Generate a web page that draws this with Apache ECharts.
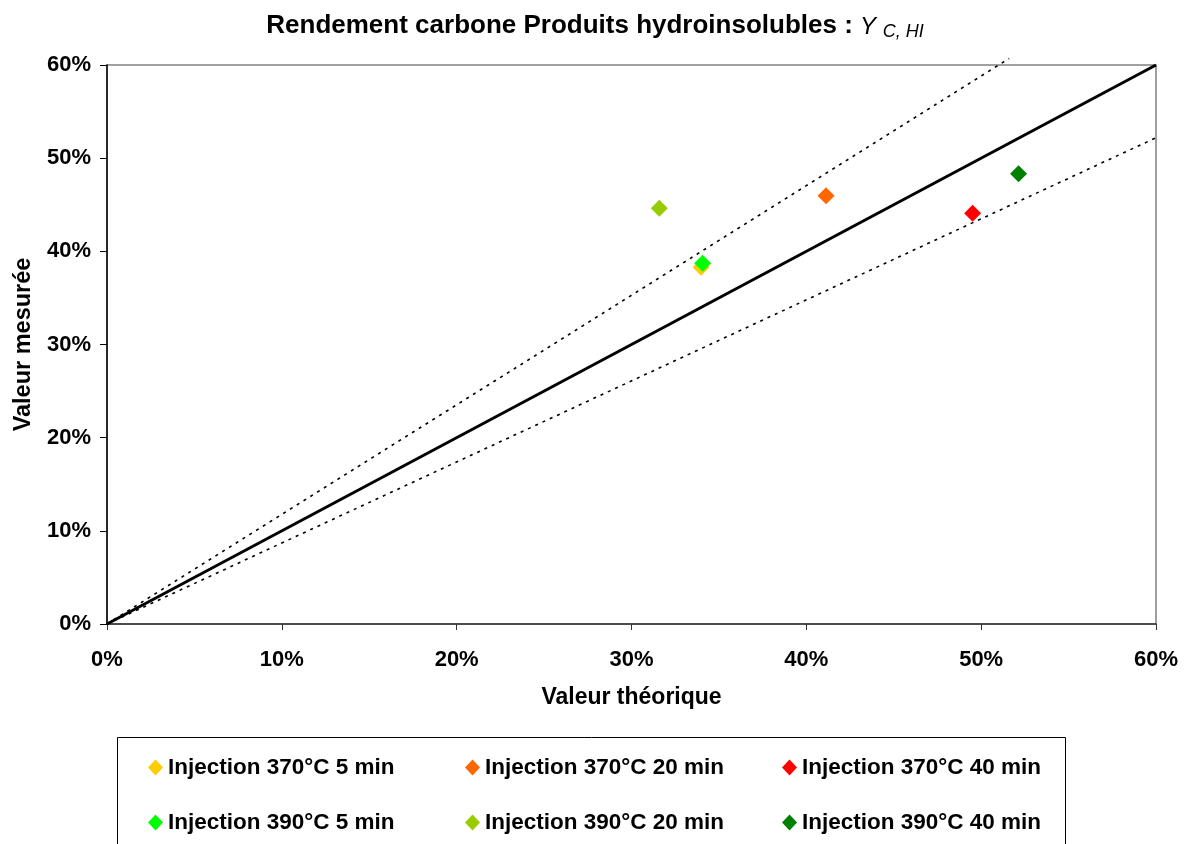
<!DOCTYPE html>
<html>
<head>
<meta charset="utf-8">
<script src="https://cdn.jsdelivr.net/npm/echarts@6/dist/echarts.min.js"></script>
<style>html,body{margin:0;padding:0;background:#fff}#c{width:1190px;height:844px}</style>
</head>
<body>
<div id="c"></div>
<script>
// Data (percent)
var seriesNames = ['Injection 370°C 5 min','Injection 370°C 20 min','Injection 370°C 40 min','Injection 390°C 5 min','Injection 390°C 20 min','Injection 390°C 40 min'];
var seriesColors = ['#FFCC00','#FF6600','#FF0000','#00FF00','#99CC00','#008000'];
var theoretical = [33.98, 41.13, 49.51, 34.07, 31.59, 52.14];
var measured = [38.28, 45.97, 44.08, 38.71, 44.62, 48.33];
var identityLine = [[0,0],[60,60]];
var upperLine = [[0,0],[51.6,60.7]];
var lowerLine = [[0,0],[60.3,52.45]];
var axisTicks = [0,10,20,30,40,50,60];

var FONT = '"Liberation Sans", Arial, Helvetica, sans-serif';
var chart = echarts.init(document.getElementById('c'), null, {renderer:'canvas'});

var series = [];
seriesNames.forEach(function(n,i){
  series.push({
    name:n, type:'scatter', symbol:'diamond', symbolSize:[17,17],
    itemStyle:{color:seriesColors[i], opacity:1},
    data:[[theoretical[i], measured[i]]], z:5
  });
});
series.push({type:'line', data:identityLine, symbol:'none', silent:true, clip:false,
  lineStyle:{color:'#000', width:3}, z:3});
series.push({type:'line', data:upperLine, symbol:'none', silent:true, clip:false,
  lineStyle:{color:'#000', width:1.6, type:[3,5]}, z:3});
series.push({type:'line', data:lowerLine, symbol:'none', silent:true, clip:false,
  lineStyle:{color:'#000', width:1.6, type:[3,5]}, z:3});

var legendPos = [[143,751],[460,751],[777,751],[143,806],[460,806],[777,806]];
var legends = seriesNames.map(function(n,i){
  return {
    data:[{name:n, icon:'diamond'}],
    left:legendPos[i][0], top:legendPos[i][1],
    itemWidth:15, itemHeight:16, selectedMode:false,
    textStyle:{fontFamily:FONT, fontWeight:'bold', fontSize:22.5, color:'#000'}
  };
});

var axisLabel = {fontFamily:FONT, fontWeight:'bold', fontSize:22, color:'#000', formatter:function(v){return v+'%';}};

chart.setOption({
  animation:false,
  backgroundColor:'#fff',
  title:{
    left:'center', top:2,
    text:'{b|Rendement carbone Produits hydroinsolubles : }{i|Y }{s|C, HI}',
    textStyle:{fontWeight:'normal', rich:{
      b:{fontFamily:FONT, fontWeight:'bold', fontSize:26, color:'#000', lineHeight:32, verticalAlign:'bottom'},
      i:{fontFamily:FONT, fontStyle:'italic', fontWeight:'normal', fontSize:24, color:'#000', lineHeight:32, verticalAlign:'bottom'},
      s:{fontFamily:FONT, fontStyle:'italic', fontWeight:'normal', fontSize:18, color:'#000', lineHeight:32, verticalAlign:'bottom', padding:[0,0,-2,0]}
    }}
  },
  legend:legends,
  grid:{left:107, right:34, top:65, bottom:220, show:true, borderColor:'#808080', borderWidth:1.5},
  xAxis:{
    type:'value', min:0, max:60, interval:10,
    name:'Valeur théorique', nameLocation:'middle', nameGap:62,
    nameTextStyle:{fontFamily:FONT, fontWeight:'bold', fontSize:23, color:'#000'},
    axisLine:{lineStyle:{color:'#333', width:1.5}},
    axisTick:{show:true, length:6, lineStyle:{color:'#333'}},
    axisLabel:Object.assign({margin:25}, axisLabel),
    splitLine:{show:false}
  },
  yAxis:{
    type:'value', min:0, max:60, interval:10,
    name:'Valeur mesurée', nameLocation:'middle', nameGap:71, nameRotate:90,
    nameTextStyle:{fontFamily:FONT, fontWeight:'bold', fontSize:23.5, color:'#000'},
    axisLine:{show:true, lineStyle:{color:'#000', width:1.5}},
    axisTick:{show:true, length:7, lineStyle:{color:'#000'}},
    axisLabel:Object.assign({margin:16}, axisLabel),
    splitLine:{show:false}
  },
  graphic:[{type:'rect', shape:{x:117.5, y:737.5, width:948, height:120},
    style:{fill:'none', stroke:'#000', lineWidth:1}, silent:true, z:-1}],
  series:series
});
</script>
</body>
</html>
